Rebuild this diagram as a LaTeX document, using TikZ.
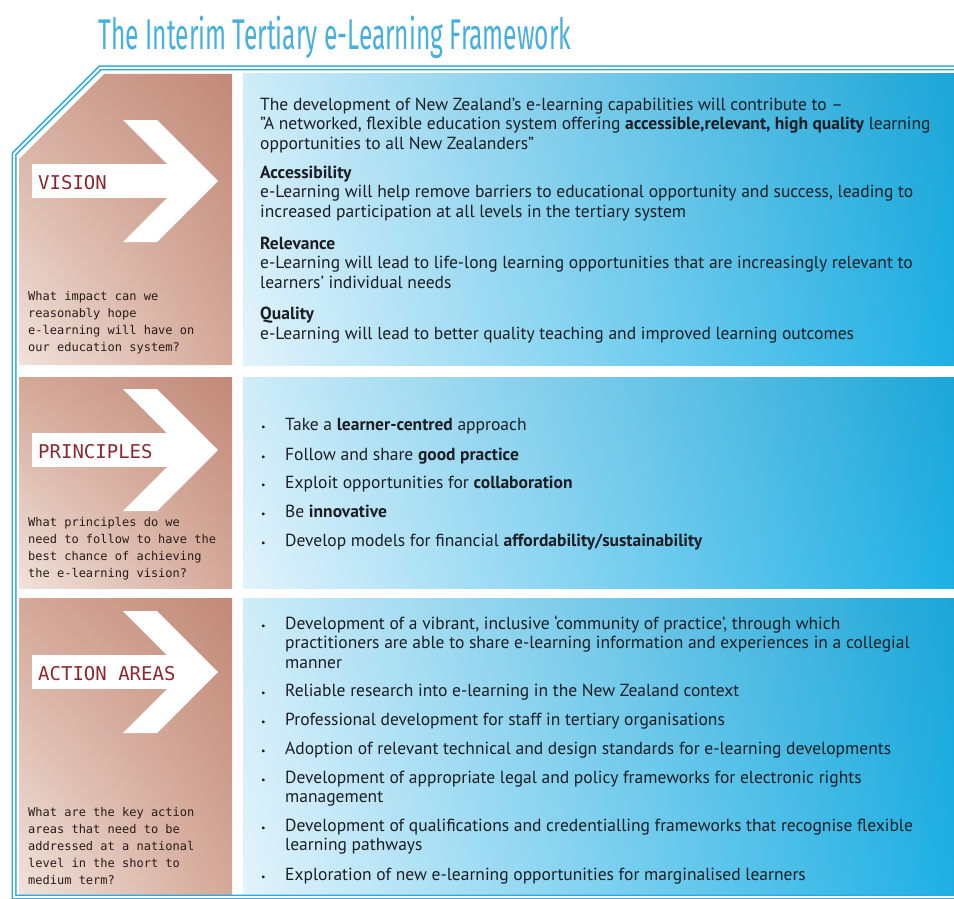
\documentclass[tikz,border=0pt]{standalone}
\usepackage{fontspec}
\usetikzlibrary{shadings}
\setmainfont{PT Sans}
\newfontfamily\titlefont{Fira Sans}[FakeStretch=0.57]
\newfontfamily\pixfont{DejaVu Sans Mono}

\definecolor{frameblue}{RGB}{45,168,222}
\definecolor{titleblue}{RGB}{70,175,222}
\definecolor{labelred}{RGB}{140,40,48}
\definecolor{inkdark}{RGB}{28,30,36}
\definecolor{pixink}{RGB}{40,28,26}
\definecolor{browndark}{RGB}{194,138,120}
\definecolor{brownmid}{RGB}{212,168,152}
\definecolor{brownlight}{RGB}{240,226,219}
\definecolor{bluepale}{RGB}{226,243,251}
\definecolor{bluedeep}{RGB}{30,176,228}

\tikzset{
  brownpanel/.style={upper left=brownmid, upper right=browndark,
    lower left=brownlight, lower right=brownmid},
  bluepanel/.style={upper left=bluepale!90!bluedeep, lower left=bluepale,
    upper right=bluedeep!94!black, lower right=bluedeep},
  bodytext/.style={font=\fontsize{17.5}{19.5}\selectfont, text=inkdark,
    anchor=base west, inner sep=0pt, align=left},
  dot/.style={font=\fontsize{10}{12}\selectfont, text=inkdark,
    anchor=base west, inner sep=0pt},
  rowlabel/.style={font=\pixfont\fontsize{19}{22}\selectfont, text=labelred,
    anchor=base west, inner sep=0pt},
  question/.style={font=\pixfont\fontsize{12}{16.8}\selectfont, text=pixink,
    anchor=base west, inner sep=0pt, align=left}
}

\begin{document}
\begin{tikzpicture}[x=1pt,y=-1pt]
    \useasboundingbox (0,0) rectangle (954,899);

    % Title
    \node[font=\titlefont\fontsize{43}{46}\selectfont, text=titleblue,
      anchor=base, inner sep=0pt] (title) at (335,50)
      {The Interim Tertiary e-Learning Framework};

    % Left column
    \shade[brownpanel] (104,74) -- (232,74) -- (232,365) -- (19,365) -- (19,159) -- cycle;
    \shade[brownpanel] (19,377) rectangle (232,588);
    \shade[brownpanel] (19,598) rectangle (232,895);

    % Right column
    \shade[bluepanel] (243,74) rectangle (954,365);
    \shade[bluepanel] (243,377) rectangle (954,588);
    \shade[bluepanel] (243,598) rectangle (954,894);

    % Frame
    \draw[frameblue, line width=1.5pt, double=white, double distance=2pt]
      (954,68) -- (100,68) -- (14,154) -- (14,897) -- (954,897);

    % Arrows with row labels
    \foreach \c/\lbl/\nm in {181/VISION/vision, 450/PRINCIPLES/principles, 672/ACTION AREAS/action} {
      \fill[white] (32,\c-17) rectangle (190,\c+17);
      \fill[white] (123,\c-61) -- (157,\c-61) -- (218,\c) -- (157,\c+61)
        -- (123,\c+61) -- (184,\c) -- cycle;
      \node[rowlabel] (\nm) at (38,\c+8) {\lbl};
    }

    % Questions (placed by the baseline of their last line)
    \node[question] (qvision) at (28,351) {What impact can we\\reasonably hope\\e-learning will have on\\our education system?};
    \node[question] (qprinciples) at (28,577) {What principles do we\\need to follow to have the\\best chance of achieving\\the e-learning vision?};
    \node[question] (qaction) at (28,884) {What are the key action\\areas that need to be\\addressed at a national\\level in the short to\\medium term?};

    % Vision
    \node[bodytext] (v0) at (260,149) {The development of New Zealand’s e-learning capabilities will contribute to –\\
      "A networked, flexible education system offering \textbf{accessible,relevant, high quality} learning\\
      opportunities to all New Zealanders"};
    \node[bodytext] (v1) at (260,217) {\textbf{Accessibility}\\
      e-Learning will help remove barriers to educational opportunity and success, leading to\\
      increased participation at all levels in the tertiary system};
    \node[bodytext] (v2) at (260,288) {\textbf{Relevance}\\
      e-Learning will lead to life-long learning opportunities that are increasingly relevant to\\
      learners’ individual needs};
    \node[bodytext] (v3) at (260,339) {\textbf{Quality}\\
      e-Learning will lead to better quality teaching and improved learning outcomes};

    % Principles
    \foreach \y/\txt [count=\i] in {
        430/{Take a \textbf{learner-centred} approach},
        460/{Follow and share \textbf{good practice}},
        488/{Exploit opportunities for \textbf{collaboration}},
        517/{Be \textbf{innovative}},
        546/{Develop models for financial \textbf{affordability/sustainability}}} {
      \node[dot] (pdot\i) at (261,\y) {•};
      \node[bodytext] (p\i) at (285,\y) {\txt};
    }

    % Action areas: first baseline / extra lines / text
    \foreach \y/\n/\txt [count=\i] in {
        629/2/{Development of a vibrant, inclusive ‘community of practice’, through which\\practitioners are able to share e-learning information and experiences in a collegial\\manner},
        696/0/{Reliable research into e-learning in the New Zealand context},
        725/0/{Professional development for staff in tertiary organisations},
        754/0/{Adoption of relevant technical and design standards for e-learning developments},
        783/1/{Development of appropriate legal and policy frameworks for electronic rights\\management},
        831/1/{Development of qualifications and credentialling frameworks that recognise flexible\\learning pathways},
        880/0/{Exploration of new e-learning opportunities for marginalised learners}} {
      \node[dot] (adot\i) at (261,\y) {•};
      \node[bodytext] (a\i) at (285,\y+\n*19.5) {\txt};
    }
\end{tikzpicture}
\end{document}
